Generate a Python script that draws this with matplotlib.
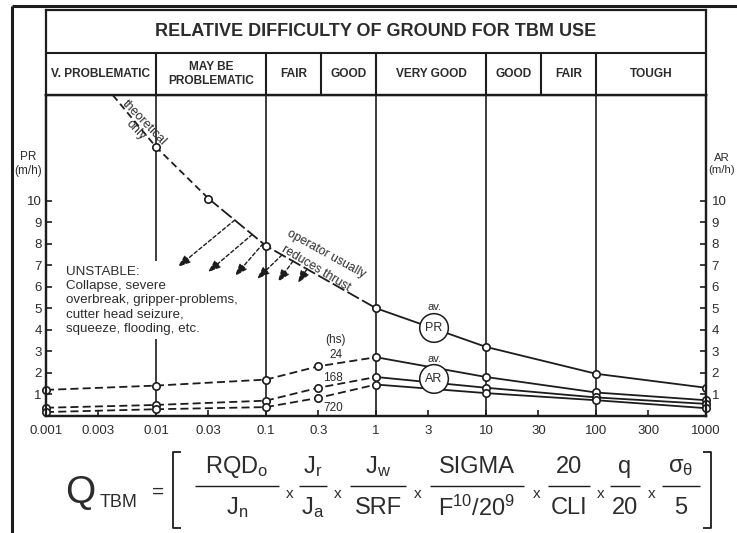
import matplotlib
matplotlib.use("Agg")
import matplotlib.pyplot as plt
from matplotlib.lines import Line2D
from matplotlib.ticker import NullLocator, FixedLocator, FixedFormatter

plt.rcParams['font.family'] = ['Liberation Sans', 'DejaVu Sans']
plt.rcParams['mathtext.fontset'] = 'custom'
plt.rcParams['mathtext.rm'] = 'Liberation Sans'
plt.rcParams['mathtext.it'] = 'Liberation Sans:italic'
plt.rcParams['mathtext.bf'] = 'Liberation Sans:bold'
plt.rcParams['lines.scale_dashes'] = False

# ---------------- data ----------------
q_ticks = [0.001, 0.003, 0.01, 0.03, 0.1, 0.3, 1, 3, 10, 30, 100, 300, 1000]
q_tick_labels = ['0.001', '0.003', '0.01', '0.03', '0.1', '0.3', '1', '3',
                 '10', '30', '100', '300', '1000']
rate_ticks = [1, 2, 3, 4, 5, 6, 7, 8, 9, 10]

# average penetration rate PR (m/h) versus Q_TBM
pr_q = [0.0035, 0.01, 0.03, 0.1, 1, 10, 100, 1000]
pr_rate = [15.3, 12.5, 10.1, 7.9, 5.0, 3.2, 1.95, 1.3]

# average advance rate AR (m/h) for 24, 168 and 720 hours
ar_q = [0.001, 0.01, 0.1, 0.3, 1, 10, 100, 1000]
ar_24h = [1.2, 1.4, 1.68, 2.3, 2.72, 1.8, 1.08, 0.72]
ar_168h = [0.37, 0.5, 0.7, 1.3, 1.8, 1.3, 0.85, 0.55]
ar_720h = [0.17, 0.3, 0.4, 0.83, 1.45, 1.05, 0.72, 0.35]
hours_labels = ['24', '168', '720']

# ground classes
class_bounds = [0.001, 0.01, 0.1, 0.316, 1, 10, 31.6, 100, 1000]
class_names = ['V. PROBLEMATIC', 'MAY BE\nPROBLEMATIC', 'FAIR', 'GOOD',
               'VERY GOOD', 'GOOD', 'FAIR', 'TOUGH']
grid_q = [0.01, 0.1, 1, 10, 100]

# thrust reduction arrows (from PR curve down to unstable zone)
arrow_from_q = [0.052, 0.075, 0.094, 0.14, 0.176, 0.236]
arrow_from_pr = [9.1, 8.43, 8.0, 7.48, 7.19, 6.82]
arrow_to_q = [0.0158, 0.0297, 0.0522, 0.083, 0.128, 0.195]
arrow_to_pr = [6.92, 6.68, 6.5, 6.36, 6.22, 6.17]

# ---------------- figure ----------------
W, H = 737, 533
INK = '#1c1c1c'
TXT = '#2c2c2c'

fig = plt.figure(figsize=(W / 100, H / 100), dpi=100)
fig.patch.set_facecolor('white')


def fx(x):
    return x / W


def fy(y):
    return 1 - y / H


def fline(xs, ys, lw=1.3):
    fig.add_artist(Line2D([fx(v) for v in xs], [fy(v) for v in ys],
                          color=INK, lw=lw, solid_capstyle='butt'))


# outer frame (left and top)
fline([12, 12], [6, 533], lw=2.2)
fline([12, 737], [6, 6], lw=2.2)

AX_L, AX_R, AX_T, AX_B = 46, 706, 95, 415.7
HD_T = 10
ax = fig.add_axes([fx(AX_L), fy(AX_B), (AX_R - AX_L) / W, (AX_B - AX_T) / H])
hx = fig.add_axes([fx(AX_L), fy(AX_T), (AX_R - AX_L) / W, (AX_T - HD_T) / H])

px_per_unit = 21.5
ax.set_xscale('log')
ax.set_xlim(0.001, 1000)
ax.set_ylim(0, (AX_B - AX_T) / px_per_unit)

for s in ax.spines.values():
    s.set_linewidth(1.6)
    s.set_color(INK)

ax.xaxis.set_major_locator(FixedLocator(q_ticks))
ax.xaxis.set_major_formatter(FixedFormatter(q_tick_labels))
ax.xaxis.set_minor_locator(NullLocator())
ax.set_yticks(rate_ticks)
ax.set_yticklabels([str(v) for v in rate_ticks])
ax.tick_params(axis='both', direction='in', length=4, width=1.2, color=INK,
               labelsize=9.5, labelcolor=TXT, pad=3)
ax.tick_params(axis='x', pad=7)

ax2 = ax.twinx()
ax2.set_ylim(ax.get_ylim())
ax2.set_yticks(rate_ticks)
ax2.set_yticklabels([str(v) for v in rate_ticks])
ax2.tick_params(axis='y', direction='in', length=4, width=1.2, color=INK,
                labelsize=9.5, labelcolor=TXT, pad=4)
for s in ax2.spines.values():
    s.set_linewidth(1.6)
    s.set_color(INK)

# vertical class lines through the plot
for q in grid_q:
    ax.axvline(q, color=INK, lw=1.2, zorder=1)

# PR curve: theoretical part, operator-limited part, normal part
short_dash = (0, (5.0, 3.0))
long_dash = (0, (9.5, 2.6))
ar_dash = (0, (5.8, 3.0))
ax.plot(pr_q[0:3], pr_rate[0:3], color=INK, lw=1.3, ls=short_dash, zorder=3)
ax.plot(pr_q[2:5], pr_rate[2:5], color=INK, lw=1.3, ls=long_dash, zorder=3)
ax.plot(pr_q[4:], pr_rate[4:], color=INK, lw=1.3, zorder=3)
ax.plot(pr_q[1:], pr_rate[1:], ls='none', marker='o', ms=5.3, mfc='white',
        mec=INK, mew=1.2, zorder=6)

# AR curves
for series in (ar_24h, ar_168h, ar_720h):
    ax.plot(ar_q[:5], series[:5], color=INK, lw=1.3, ls=ar_dash, zorder=3)
    ax.plot(ar_q[4:], series[4:], color=INK, lw=1.3, zorder=3)
    ax.plot(ar_q, series, ls='none', marker='o', ms=5.3, mfc='white',
            mec=INK, mew=1.2, zorder=6, clip_on=False)

# thrust reduction arrows
for x0, y0, x1, y1 in zip(arrow_from_q, arrow_from_pr, arrow_to_q, arrow_to_pr):
    ax.annotate('', xy=(x1, y1), xytext=(x0, y0), zorder=7,
                arrowprops=dict(arrowstyle='-|>,head_length=0.75,head_width=0.28',
                                color=INK, lw=1.0, linestyle=(0, (2.6, 1.8)),
                                shrinkA=0, shrinkB=0))

# annotations
ax.text(0.00152, 5.36,
        'UNSTABLE:\nCollapse, severe\noverbreak, gripper-problems,\n'
        'cutter head seizure,\nsqueeze, flooding, etc.',
        ha='left', va='center', fontsize=9.6, color=TXT, linespacing=1.27,
        bbox=dict(fc='white', ec='none', pad=3), zorder=4)
ax.text(0.0072, 13.45, 'theoretical\nonly', rotation=-46, rotation_mode='anchor',
        ha='center', va='center', fontsize=9, color=TXT, linespacing=0.95,
        zorder=5)
ax.text(0.351, 7.52, 'operator usually', rotation=-29, rotation_mode='anchor',
        ha='center', va='center', fontsize=8.8, color=TXT, zorder=5)
ax.text(0.285, 6.87, 'reduces thrust', rotation=-31, rotation_mode='anchor',
        ha='center', va='center', fontsize=8.8, color=TXT, zorder=5)

ax.text(3.37, 4.08, 'PR', ha='center', va='center', fontsize=9, color=TXT,
        bbox=dict(boxstyle='circle,pad=0.45', fc='white', ec=INK, lw=1.1), zorder=8)
ax.text(3.37, 5.06, 'av.', ha='center', va='center', fontsize=8, color=TXT, zorder=8)
ax.text(3.37, 1.71, 'AR', ha='center', va='center', fontsize=9, color=TXT,
        bbox=dict(boxstyle='circle,pad=0.45', fc='white', ec=INK, lw=1.1), zorder=8)
ax.text(3.37, 2.64, 'av.', ha='center', va='center', fontsize=8, color=TXT, zorder=8)

ax.text(0.424, 3.52, '(hs)', ha='center', va='center', fontsize=8.5, color=TXT)
hours_pos = [(0.433, 2.8), (0.41, 1.76), (0.41, 0.36)]
for lab, (qx, yv) in zip(hours_labels, hours_pos):
    ax.text(qx, yv, lab, ha='center', va='center', fontsize=8.5, color=TXT, zorder=5)

# axis titles
fig.text(fx(28), fy(164), 'PR\n(m/h)', ha='center', va='center', fontsize=8.5,
         color=TXT, linespacing=1.3)
fig.text(fx(722), fy(164), 'AR\n(m/h)', ha='center', va='center', fontsize=8.2,
         color=TXT, linespacing=1.3)

# header table
hx.set_xscale('log')
hx.set_xlim(0.001, 1000)
hx.set_ylim(0, 1)
hx.set_xticks([])
hx.set_yticks([])
hx.xaxis.set_minor_locator(NullLocator())
for s in hx.spines.values():
    s.set_linewidth(1.6)
    s.set_color(INK)
mid = (AX_T - 53) / (AX_T - HD_T)
hx.axhline(mid, color=INK, lw=1.5)
for b in class_bounds[1:-1]:
    hx.axvline(b, ymin=0, ymax=mid, color=INK, lw=1.5)
hx.text(0.5, (1 + mid) / 2, 'RELATIVE DIFFICULTY OF GROUND FOR TBM USE',
        transform=hx.transAxes, ha='center', va='center', fontsize=13,
        fontweight='bold', color=TXT)
for lo, hi, name in zip(class_bounds[:-1], class_bounds[1:], class_names):
    xc = (lo * hi) ** 0.5
    hx.text(xc, mid / 2, name, ha='center', va='center', fontsize=8.6,
            fontweight='bold', color=TXT, linespacing=1.2)

# ---------------- Q_TBM formula ----------------
Y_NUM, Y_BAR, Y_DEN, Y_MID = 467, 486, 508, 492
FS = 17
fig.text(fx(65), fy(503), 'Q', fontsize=28, color=TXT, ha='left', va='baseline')
fig.text(fx(100), fy(507), 'TBM', fontsize=13, color=TXT, ha='left', va='baseline')
fig.text(fx(158), fy(Y_MID), '=', fontsize=15, color=TXT, ha='center', va='center')

# brackets
fline([181, 173, 173, 181], [452, 452, 528, 528], lw=1.3)
fline([703, 711, 711, 703], [452, 452, 528, 528], lw=1.3)

fracs = [
    (237, 42, r'RQD$_\mathrm{o}$', r'J$_\mathrm{n}$'),
    (313, 14, r'J$_\mathrm{r}$', r'J$_\mathrm{a}$'),
    (378, 28, r'J$_\mathrm{w}$', 'SRF'),
    (477, 47, 'SIGMA', r'F$^{10}$/20$^{9}$'),
    (569, 21, '20', 'CLI'),
    (625, 15, 'q', '20'),
    (681, 19, r'$\mathrm{σ}_{\mathrm{θ}}$', '5'),
]
times_x = [290, 338, 418, 537, 601, 652]
for xc, hw, num, den in fracs:
    fig.text(fx(xc), fy(Y_NUM), num, fontsize=FS, color=TXT, ha='center', va='center')
    fig.text(fx(xc), fy(Y_DEN), den, fontsize=FS, color=TXT, ha='center', va='center')
    fline([xc - hw, xc + hw], [Y_BAR, Y_BAR], lw=1.0)
for xt in times_x:
    fig.text(fx(xt), fy(Y_MID + 2), 'x', fontsize=11, color=TXT, ha='center', va='center')

fig.savefig('out.png', dpi=100, facecolor='white')
